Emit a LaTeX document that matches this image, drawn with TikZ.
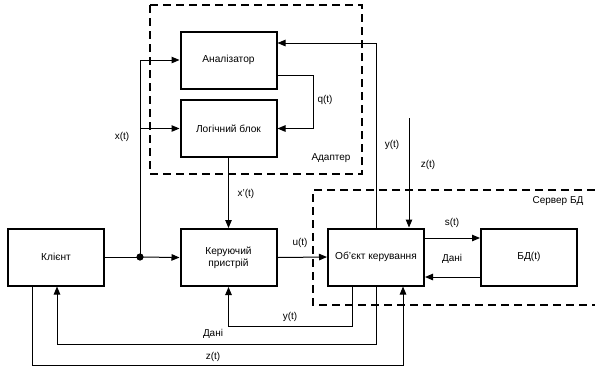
\documentclass[tikz,border=0pt]{standalone}
\usepackage{fontspec}
\setmainfont{Liberation Sans}
\usetikzlibrary{calc,arrows.meta,positioning}

\tikzset{
  blok/.style={draw,line width=2bp,minimum width=96bp,minimum height=57bp,align=center,inner sep=2bp,font=\fontsize{10.2}{12}\selectfont},
  lnk/.style={line width=1bp,-{Triangle[length=8bp,width=6.5bp]}},
  plain/.style={line width=1bp},
  zona/.style={line width=1.3bp,dash pattern=on 8bp off 5bp},
  mitka/.style={font=\fontsize{10}{11}\selectfont,inner sep=1bp}
}

\begin{document}
\begin{tikzpicture}[x=1bp,y=-1bp]
\useasboundingbox (0,0) rectangle (595,367);

% dashed zones
\draw[zona] (150,5) rectangle (362,174);
\draw[zona] (595,190) -- (313,190) -- (313,305) -- (595,305);
\node[mitka] (adapterLbl) at (331,158) {Адаптер};
\node[mitka] (serverLbl) at (558,201) {Сервер БД};

% blocks
\node[blok] (analyzer) at (228.5,60) {Аналізатор};
\node[blok] (logic) at (228.5,128.5) {Логічний блок};
\node[blok] (client) at (56,257) {Клієнт};
\node[blok] (controller) at (228.5,257.5) {Керуючий\\пристрій};
\node[blok] (object) at (376,257) {Об’єкт керування};
\node[blok] (db) at (529,257) {БД(t)};

% client -> controller with branch
\coordinate (branch) at (140,257);
\draw[plain] (client.east) -- (branch);
\fill (branch) circle (3.6bp);
\draw[lnk] (branch) -- (controller.west);
\draw[lnk] (branch) |- (analyzer.west);
\draw[lnk] (branch|-logic.west) -- (logic.west);
\node[mitka] (xLbl) at (122,137) {x(t)};

% adapter internals
\draw[lnk] (logic.south) -- (controller.north);
\node[mitka] (xpLbl) at (246,194) {x'(t)};
\draw[lnk] ($(analyzer.east)+(0,15)$) -| ($(logic.east)+(36,0)$) -- (logic.east);
\node[mitka] (qLbl) at (325,100) {q(t)};

% feedback to analyzer
\draw[lnk] (object.north) |- ($(analyzer.east)+(0,-17)$);
\node[mitka] (yTopLbl) at (392,145) {y(t)};

% disturbance z(t)
\coordinate (zTop) at (409,118);
\draw[lnk] (zTop) -- (zTop|-object.north);
\node[mitka] (zTopLbl) at (428,165) {z(t)};

% controller -> object
\draw[lnk] (controller.east) -- (object.west);
\node[mitka] (uLbl) at (300,243) {u(t)};

% object <-> db
\draw[lnk] ($(object.east)+(0,-19)$) -- ($(db.west)+(0,-19)$);
\node[mitka] (sLbl) at (452,223) {s(t)};
\draw[lnk] ($(db.west)+(0,20)$) -- ($(object.east)+(0,20)$);
\node[mitka] (dbDataLbl) at (452,259) {Дані};

% lower feedback loops
\draw[lnk] ($(object.south)+(-24,0)$) -- ++(0,40) -| (controller.south);
\node[mitka] (yLbl) at (290,317) {y(t)};
\draw[lnk] (object.south) -- ++(0,58) -| ($(client.south)+(1,0)$);
\node[mitka] (dataLbl) at (213,334) {Дані};
\draw[lnk] ($(client.south)+(-24,0)$) -- ++(0,79) -| ($(object.south)+(27,0)$);
\node[mitka] (zLbl) at (213,357) {z(t)};
\end{tikzpicture}
\end{document}
